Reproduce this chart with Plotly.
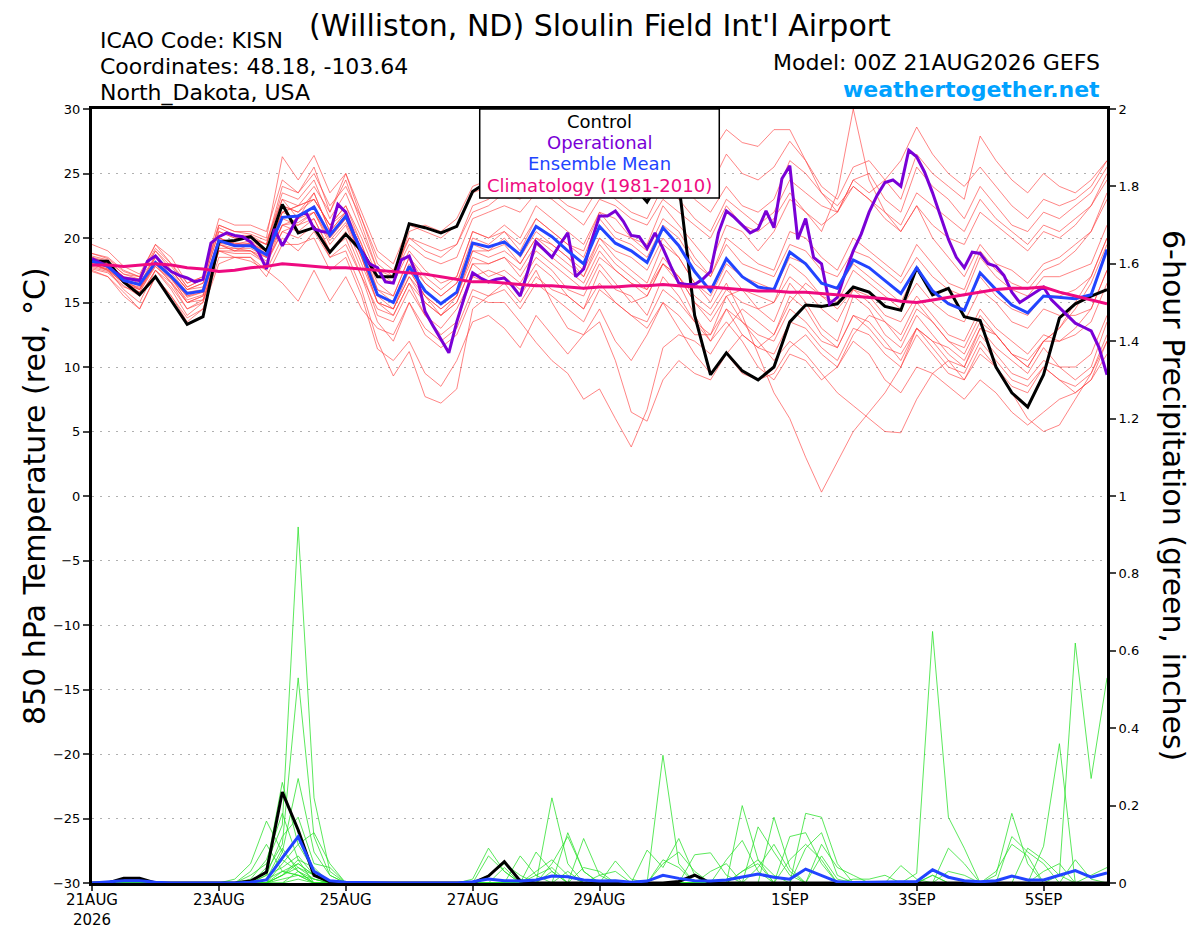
import pandas as pd
import plotly.graph_objects as go

# 6-hourly GEFS steps, 21AUG 00Z -> 6SEP 00Z
times = pd.date_range("2026-08-21 00:00", periods=65, freq="6h")
times_oper = pd.date_range("2026-08-21 00:00", periods=129, freq="3h")

tick_dates = ["2026-08-21", "2026-08-23", "2026-08-25", "2026-08-27",
              "2026-08-29", "2026-09-01", "2026-09-03", "2026-09-05"]
tick_text = ["21AUG<br>2026", "23AUG", "25AUG", "27AUG", "29AUG", "1SEP", "3SEP", "5SEP"]

control_t = [18.2, 18.2, 16.6, 15.6, 17.0, 15.1, 13.3, 13.9, 19.7, 19.8, 20.1, 19.0, 22.6, 20.4, 20.8, 18.9,
             20.3, 19.0, 17.0, 17.0, 21.1, 20.8, 20.4, 20.9, 23.6, 24.4, 25.0, 25.4, 24.8, 25.6, 26.0, 25.2,
             24.6, 25.4, 24.2, 22.8, 24.8, 24.2, 14.0, 9.4, 11.1, 9.7, 9.0, 10.0, 13.5, 14.8, 14.7, 14.9,
             16.2, 15.8, 14.7, 14.4, 17.7, 15.6, 16.1, 13.9, 13.6, 10.0, 8.0, 6.9, 9.4, 13.8, 14.9, 15.5, 16.0]

mean_t = [18.2, 17.8, 16.7, 16.4, 18.1, 17.0, 15.7, 15.9, 19.8, 19.4, 19.4, 18.7, 21.6, 21.7, 22.4, 20.2,
          21.7, 18.9, 15.6, 15.0, 17.8, 15.9, 14.9, 15.8, 19.6, 19.3, 19.7, 18.7, 20.9, 20.1, 19.0, 18.0,
          20.9, 19.6, 19.0, 18.1, 20.8, 19.4, 17.4, 15.9, 18.4, 17.0, 16.2, 16.0, 18.9, 18.0, 16.5, 16.1,
          18.3, 17.7, 16.7, 15.7, 17.7, 15.9, 14.9, 14.4, 17.3, 16.0, 14.8, 14.2, 15.5, 15.4, 15.3, 15.6, 19.1]

clim_t = [17.9, 17.9, 17.8, 17.9, 18.0, 17.9, 17.7, 17.6, 17.4, 17.5, 17.7, 17.8, 18.0, 17.9, 17.8, 17.7,
          17.7, 17.6, 17.5, 17.4, 17.3, 17.2, 17.0, 16.8, 16.6, 16.6, 16.5, 16.4, 16.3, 16.3, 16.2, 16.1,
          16.2, 16.2, 16.3, 16.3, 16.4, 16.3, 16.2, 16.2, 16.1, 16.0, 15.9, 15.9, 15.8, 15.8, 15.7, 15.6,
          15.5, 15.4, 15.3, 15.1, 15.0, 15.2, 15.4, 15.6, 15.8, 16.0, 16.1, 16.1, 16.2, 15.8, 15.5, 15.2, 14.9]

oper_t = [18.4, 18.1, 17.8, 17.3, 16.9, 16.8, 16.7, 18.2, 18.6, 17.9, 17.4, 17.1, 16.9, 16.6, 16.8, 19.6,
          20.1, 20.4, 20.2, 20.1, 19.7, 18.9, 17.6, 20.7, 19.4, 20.5, 21.7, 22.0, 20.7, 20.5, 20.4, 22.6,
          22.0, 20.3, 19.0, 18.0, 17.7, 16.6, 16.5, 18.3, 18.6, 17.0, 14.3, 13.2, 12.2, 11.1, 13.5, 15.5,
          17.3, 16.9, 16.6, 16.8, 16.9, 16.3, 15.5, 17.5, 19.7, 19.1, 18.5, 19.5, 20.4, 17.0, 17.6, 19.8,
          21.7, 21.7, 22.1, 21.3, 20.2, 20.1, 19.2, 20.4, 19.2, 17.8, 16.5, 16.4, 16.4, 16.8, 17.4, 20.4,
          22.1, 21.6, 21.0, 20.4, 20.7, 22.1, 20.8, 24.6, 25.6, 19.9, 21.5, 18.5, 18.0, 14.9, 15.4, 17.3,
          19.0, 20.3, 22.0, 23.3, 24.3, 24.5, 24.0, 26.8, 26.3, 25.1, 23.5, 21.7, 19.9, 18.5, 17.7, 18.9,
          18.8, 18.0, 17.8, 17.1, 15.8, 15.0, 15.4, 15.8, 16.2, 15.2, 14.6, 14.0, 13.4, 13.1, 12.8, 11.5, 9.4]

members_t = [
    [19.5, 19.0, 17.8, 17.2, 19.5, 18.5, 16.5, 17.0, 21.5, 21.0, 21.0, 20.5, 24.5, 23.5, 25.0, 22.5, 24.0, 21.5, 18.5, 17.5, 20.0, 19.5, 19.0, 19.5, 22.5, 23.0, 24.0, 24.5, 25.0, 24.0, 23.5, 24.5, 25.5, 24.0, 23.0, 24.5, 26.0, 25.5, 24.0, 26.5, 28.4, 27.4, 27.1, 28.4, 28.4, 26.0, 23.5, 22.0, 24.5, 25.0, 23.0, 22.0, 25.5, 24.0, 23.0, 21.5, 24.0, 22.5, 21.0, 20.5, 22.0, 21.5, 22.5, 23.5, 25.5],
    [18.0, 17.5, 16.5, 16.0, 18.0, 17.0, 15.5, 16.0, 20.0, 19.5, 19.5, 19.0, 22.0, 22.5, 23.0, 21.0, 22.5, 20.0, 17.0, 16.5, 19.0, 17.5, 16.5, 17.0, 20.5, 20.0, 21.0, 20.0, 22.5, 21.5, 20.5, 19.5, 22.0, 21.5, 20.0, 19.5, 22.5, 21.0, 19.5, 18.0, 21.0, 20.5, 19.0, 20.5, 23.0, 22.0, 20.5, 23.5, 30.0, 24.5, 22.0, 20.5, 22.5, 20.0, 18.5, 17.0, 19.5, 18.0, 17.5, 16.5, 18.0, 18.5, 19.5, 20.5, 23.0],
    [18.5, 18.0, 17.0, 16.5, 18.5, 17.5, 16.0, 16.5, 20.5, 20.0, 20.0, 19.5, 23.0, 21.5, 23.5, 20.5, 22.0, 19.0, 15.5, 14.5, 17.0, 15.5, 14.0, 15.0, 18.0, 17.0, 17.5, 16.5, 18.5, 17.5, 16.0, 15.5, 18.0, 16.5, 15.0, 15.5, 18.0, 17.0, 15.5, 14.5, 16.5, 14.0, 11.0, 8.0, 6.0, 3.0, 0.3, 2.7, 5.0, 6.5, 8.0, 10.0, 13.0, 12.0, 11.5, 10.5, 13.0, 12.5, 11.0, 10.0, 12.0, 13.0, 15.0, 17.0, 20.0],
    [17.8, 17.5, 16.0, 15.0, 17.5, 16.0, 14.0, 15.0, 19.0, 19.0, 19.0, 18.0, 20.5, 21.0, 21.5, 19.0, 20.0, 17.0, 13.5, 12.0, 15.0, 12.5, 11.5, 12.5, 15.5, 15.0, 15.0, 13.5, 11.9, 10.5, 9.5, 7.5, 8.3, 6.0, 3.8, 6.7, 11.5, 12.5, 12.0, 11.0, 13.0, 14.5, 13.5, 12.5, 15.0, 16.5, 15.5, 14.5, 16.0, 15.5, 14.0, 13.5, 15.5, 14.0, 12.5, 12.0, 14.5, 13.0, 12.0, 11.0, 12.5, 12.0, 13.0, 14.5, 17.5],
    [18.0, 17.5, 16.5, 15.5, 17.5, 16.5, 14.5, 15.0, 19.0, 18.5, 18.5, 17.5, 20.0, 19.0, 20.5, 18.5, 19.0, 16.0, 12.0, 9.3, 11.2, 7.7, 7.2, 8.3, 14.5, 15.5, 16.5, 15.0, 17.0, 16.0, 15.5, 14.5, 17.5, 16.0, 15.5, 14.0, 17.0, 15.5, 13.5, 12.0, 14.5, 12.5, 11.5, 12.5, 15.5, 14.5, 12.5, 11.5, 14.0, 13.5, 12.0, 10.5, 13.0, 11.5, 10.0, 9.5, 12.0, 10.5, 9.0, 8.5, 10.0, 9.0, 8.5, 9.5, 12.0],
    [17.5, 17.0, 15.5, 14.5, 17.0, 15.5, 13.5, 14.5, 18.0, 18.5, 18.5, 17.0, 19.5, 19.5, 20.0, 17.5, 18.5, 15.5, 11.4, 10.5, 12.0, 9.5, 8.5, 10.5, 13.5, 14.0, 13.0, 11.5, 14.0, 12.5, 11.0, 12.5, 14.5, 12.0, 10.5, 12.5, 15.0, 14.0, 12.5, 12.5, 15.5, 16.0, 14.5, 13.5, 16.5, 15.0, 13.0, 12.0, 15.5, 14.5, 12.5, 11.5, 14.0, 12.5, 11.0, 10.0, 13.0, 11.5, 10.5, 9.5, 11.5, 10.0, 9.0, 10.0, 13.5],
    [18.8, 18.5, 17.5, 17.0, 19.5, 18.0, 16.5, 17.0, 21.0, 20.5, 20.5, 20.0, 26.3, 24.5, 26.4, 23.5, 25.0, 22.0, 19.0, 18.0, 21.0, 20.5, 20.0, 21.0, 23.5, 24.0, 24.5, 25.0, 26.0, 25.0, 24.0, 24.5, 26.0, 25.0, 24.0, 25.0, 27.0, 26.5, 25.0, 24.0, 26.5, 25.0, 24.5, 25.5, 27.5, 26.0, 24.0, 23.0, 25.5, 26.0, 24.5, 23.0, 26.5, 25.0, 24.0, 23.0, 27.9, 26.0, 24.5, 23.5, 25.0, 24.0, 23.5, 24.5, 26.0],
    [18.0, 17.8, 16.8, 16.0, 18.5, 17.0, 15.0, 15.5, 19.5, 19.0, 19.0, 18.5, 21.0, 21.5, 22.0, 20.0, 21.5, 18.5, 15.0, 14.0, 16.5, 14.0, 13.0, 14.5, 17.0, 16.5, 17.0, 15.5, 17.5, 15.0, 13.0, 12.5, 13.5, 10.5, 6.5, 5.8, 9.0, 10.5, 9.5, 9.0, 11.0, 12.5, 11.5, 11.0, 13.5, 13.0, 11.5, 10.5, 13.0, 12.5, 11.0, 10.0, 12.5, 11.0, 9.5, 9.0, 11.5, 10.0, 8.5, 8.0, 10.0, 9.0, 8.0, 9.0, 12.0],
    [18.3, 17.8, 16.5, 16.0, 18.0, 16.5, 15.0, 15.5, 19.5, 19.0, 19.5, 18.5, 21.5, 21.0, 22.0, 19.5, 21.0, 18.0, 15.0, 14.5, 17.0, 15.0, 14.0, 15.5, 18.5, 18.0, 18.5, 17.5, 19.5, 18.5, 17.5, 16.5, 19.0, 17.5, 16.5, 16.0, 18.5, 17.0, 15.0, 13.5, 15.5, 13.5, 12.0, 10.5, 12.0, 11.0, 9.5, 8.0, 7.0, 6.0, 5.0, 4.9, 7.5, 9.5, 10.5, 9.0, 11.0, 10.0, 8.0, 6.0, 5.0, 5.5, 7.5, 9.5, 12.5],
    [18.5, 18.2, 17.2, 17.0, 19.0, 17.5, 16.0, 16.5, 20.5, 20.0, 20.0, 19.5, 23.5, 23.0, 24.5, 21.5, 23.5, 20.5, 17.5, 17.0, 19.5, 18.5, 18.0, 18.5, 21.5, 22.0, 22.5, 22.0, 23.5, 23.0, 22.0, 21.0, 23.0, 22.5, 21.5, 21.0, 23.0, 22.0, 21.0, 20.0, 22.5, 21.0, 20.5, 21.5, 23.5, 22.0, 21.0, 22.0, 24.5, 23.5, 24.5, 26.0, 28.6, 26.5, 25.0, 24.0, 25.5, 24.0, 22.5, 21.5, 23.0, 22.5, 23.0, 24.0, 26.0],
    [17.6, 17.3, 16.2, 15.8, 17.8, 16.6, 15.0, 15.2, 19.0, 18.8, 18.8, 18.0, 21.0, 20.5, 21.5, 19.0, 20.5, 17.5, 14.0, 13.5, 16.0, 14.0, 12.5, 13.5, 17.0, 17.5, 17.0, 16.0, 18.0, 17.0, 15.5, 14.5, 16.5, 15.0, 14.0, 13.0, 15.0, 13.0, 11.0, 9.5, 11.0, 9.5, 9.0, 9.5, 11.5, 12.5, 11.0, 10.0, 12.0, 11.0, 9.0, 8.0, 10.0, 9.5, 8.5, 7.5, 9.0, 8.0, 6.5, 5.5, 6.5, 7.5, 8.0, 9.0, 11.0],
    [18.2, 18.0, 17.0, 16.8, 18.5, 17.5, 16.0, 16.2, 20.0, 19.5, 19.8, 19.0, 22.5, 22.0, 23.0, 21.0, 22.0, 19.5, 16.5, 15.5, 18.5, 17.0, 16.0, 17.0, 20.5, 20.0, 20.5, 19.5, 21.5, 20.5, 19.5, 18.5, 21.5, 20.0, 19.5, 18.5, 21.0, 20.0, 18.0, 17.0, 19.5, 18.0, 17.5, 17.0, 19.5, 19.0, 17.5, 17.0, 19.0, 18.5, 17.5, 16.5, 18.5, 17.0, 16.0, 15.5, 18.5, 17.0, 16.0, 15.5, 17.0, 17.0, 17.5, 18.0, 21.0],
    [17.9, 17.6, 16.5, 16.2, 17.8, 16.8, 15.5, 15.8, 19.5, 19.2, 19.2, 18.5, 21.0, 21.2, 22.0, 19.8, 21.2, 18.5, 15.0, 14.5, 17.5, 15.5, 14.5, 15.5, 19.0, 18.5, 19.0, 18.0, 20.0, 19.5, 18.5, 17.5, 20.0, 19.0, 18.5, 17.5, 20.0, 18.5, 16.5, 15.0, 17.5, 16.0, 15.5, 15.0, 18.0, 17.0, 15.5, 15.0, 17.5, 16.5, 15.5, 14.5, 16.5, 15.0, 14.0, 13.5, 16.0, 15.0, 13.5, 13.0, 14.5, 14.0, 14.0, 14.5, 17.5],
    [18.6, 18.3, 17.2, 16.8, 19.0, 17.8, 16.2, 16.8, 20.8, 20.2, 20.2, 19.5, 24.0, 23.5, 25.5, 22.0, 24.5, 21.0, 17.5, 16.5, 20.5, 21.0, 20.5, 21.5, 24.0, 24.5, 25.0, 26.0, 25.5, 26.5, 25.0, 24.0, 26.0, 25.5, 24.5, 24.0, 25.5, 24.5, 23.0, 22.0, 24.0, 22.5, 22.0, 23.0, 26.0, 25.0, 23.5, 22.5, 24.0, 23.0, 21.5, 20.5, 22.5, 21.0, 20.0, 19.5, 22.0, 21.0, 20.0, 19.0, 20.5, 20.0, 21.0, 22.5, 24.5],
    [18.0, 17.6, 16.6, 15.8, 18.0, 16.8, 15.2, 15.6, 19.8, 19.6, 19.6, 19.0, 22.0, 22.5, 23.0, 21.0, 22.5, 19.5, 16.0, 15.0, 18.0, 16.5, 15.5, 16.5, 19.5, 19.0, 20.0, 18.5, 20.5, 19.5, 18.5, 17.0, 19.5, 18.0, 17.0, 16.0, 18.0, 16.5, 14.0, 12.0, 13.5, 12.0, 10.0, 9.0, 11.0, 10.5, 9.0, 10.0, 12.5, 14.0, 13.5, 12.0, 14.5, 13.5, 12.0, 11.0, 13.5, 12.5, 11.0, 10.0, 12.0, 13.0, 14.5, 16.5, 19.5],
    [18.4, 18.0, 16.9, 16.3, 18.7, 17.3, 15.8, 16.0, 20.0, 19.6, 19.4, 18.8, 22.5, 22.0, 23.5, 20.5, 22.0, 19.0, 16.0, 15.5, 18.5, 16.5, 15.5, 16.5, 20.0, 19.5, 20.5, 19.0, 21.5, 20.5, 19.5, 19.0, 22.0, 20.5, 20.0, 19.0, 21.5, 20.5, 18.5, 17.0, 20.0, 19.0, 18.0, 17.5, 20.5, 20.0, 18.5, 17.5, 20.0, 19.0, 18.0, 17.0, 19.5, 18.0, 16.5, 16.0, 19.0, 17.5, 16.5, 16.0, 17.5, 18.0, 19.0, 20.5, 23.5],
    [17.7, 17.4, 16.3, 15.5, 17.5, 16.2, 14.5, 15.2, 19.2, 19.2, 19.0, 18.2, 20.5, 20.0, 21.0, 18.5, 19.5, 17.0, 14.5, 14.0, 16.5, 15.0, 14.0, 15.0, 18.0, 18.0, 18.5, 17.0, 19.0, 18.0, 17.0, 16.0, 18.5, 17.5, 16.5, 15.5, 18.0, 17.0, 15.0, 14.0, 16.0, 15.0, 14.5, 15.0, 17.0, 16.0, 14.5, 13.5, 16.0, 15.0, 13.5, 12.5, 15.0, 13.5, 12.0, 11.5, 14.0, 12.5, 11.0, 10.5, 12.0, 12.0, 12.5, 13.5, 16.5],
    [18.8, 18.4, 17.4, 17.0, 19.2, 18.0, 16.2, 16.8, 21.0, 20.5, 20.3, 19.8, 23.0, 22.5, 24.0, 22.0, 25.0, 21.5, 18.0, 17.0, 20.0, 19.0, 18.5, 19.5, 22.0, 22.5, 23.5, 23.0, 24.5, 23.5, 22.5, 22.0, 24.0, 23.0, 22.0, 21.5, 24.0, 23.0, 21.5, 20.5, 23.0, 22.0, 21.0, 22.0, 24.5, 23.5, 22.5, 22.0, 24.0, 23.0, 22.0, 21.0, 23.5, 22.5, 21.5, 20.5, 23.0, 21.5, 20.5, 19.5, 21.0, 20.5, 21.5, 22.5, 25.0],
    [17.4, 17.0, 15.8, 14.5, 17.0, 15.5, 13.8, 14.5, 18.5, 18.5, 18.2, 17.5, 16.5, 15.1, 17.5, 15.1, 17.0, 14.5, 13.0, 12.5, 15.0, 13.0, 12.0, 13.0, 16.0, 15.5, 16.0, 14.5, 16.5, 15.5, 14.5, 13.5, 16.0, 15.0, 14.0, 13.5, 16.0, 15.0, 13.5, 12.5, 14.5, 13.5, 12.5, 12.0, 14.5, 13.5, 12.0, 11.5, 14.0, 13.0, 11.5, 11.0, 13.0, 12.0, 10.5, 10.0, 12.5, 11.0, 9.5, 9.0, 10.5, 10.0, 10.0, 11.0, 14.0],
    [18.1, 17.7, 16.6, 16.1, 18.2, 17.0, 15.4, 15.8, 19.6, 19.4, 19.6, 18.8, 22.0, 21.5, 22.5, 20.0, 21.5, 18.5, 15.5, 15.0, 17.5, 15.5, 14.5, 15.5, 19.0, 19.0, 19.5, 18.0, 20.0, 19.0, 18.0, 17.0, 20.0, 18.5, 17.5, 16.5, 19.5, 18.5, 16.5, 15.5, 18.0, 17.0, 16.5, 16.0, 18.5, 18.0, 16.5, 16.0, 18.0, 17.0, 16.0, 15.0, 17.5, 16.0, 15.0, 14.5, 17.0, 15.5, 14.5, 14.0, 15.5, 15.5, 16.0, 17.0, 20.0],
]

# 6-hour precip (inches); step index -> amount, all other steps dry
members_p = [
    {10: 0.02, 11: 0.05, 12: 0.15, 13: 0.92, 14: 0.22, 15: 0.03, 29: 0.03, 36: 0.33, 37: 0.05, 53: 0.02},
    {11: 0.03, 12: 0.10, 13: 0.53, 14: 0.12, 15: 0.02, 25: 0.02, 26: 0.05, 27: 0.02, 41: 0.03, 42: 0.06},
    {9: 0.01, 10: 0.05, 11: 0.16, 12: 0.08, 13: 0.04, 14: 0.02, 29: 0.22, 30: 0.05, 52: 0.025, 53: 0.65, 54: 0.17, 55: 0.09},
    {11: 0.04, 12: 0.26, 13: 0.10, 14: 0.03, 30: 0.13, 31: 0.03, 45: 0.18, 46: 0.17, 47: 0.05},
    {12: 0.08, 13: 0.27, 14: 0.08, 15: 0.02, 24: 0.01, 25: 0.09, 26: 0.03, 61: 0.02, 62: 0.62, 63: 0.27, 64: 0.53},
    {11: 0.02, 12: 0.12, 13: 0.17, 14: 0.05, 15: 0.04, 31: 0.115, 32: 0.02, 41: 0.20, 42: 0.06, 43: 0.02},
    {10: 0.01, 11: 0.06, 12: 0.18, 13: 0.06, 28: 0.08, 29: 0.03, 43: 0.17, 44: 0.04, 57: 0.02, 58: 0.18, 59: 0.05},
    {12: 0.05, 13: 0.10, 14: 0.13, 15: 0.05, 33: 0.057, 34: 0.01, 44: 0.12, 45: 0.13, 46: 0.05, 60: 0.095, 61: 0.36},
    {11: 0.02, 12: 0.04, 13: 0.07, 14: 0.02, 35: 0.085, 36: 0.04, 37: 0.115, 38: 0.02, 58: 0.12, 59: 0.08, 60: 0.05},
    {10: 0.03, 11: 0.10, 12: 0.03, 13: 0.02, 27: 0.07, 28: 0.02, 38: 0.073, 39: 0.078, 40: 0.02, 54: 0.09, 55: 0.05},
    {12: 0.02, 13: 0.04, 14: 0.01, 25: 0.07, 26: 0.03, 42: 0.145, 43: 0.08, 44: 0.02, 59: 0.09, 60: 0.06, 61: 0.02},
    {11: 0.01, 12: 0.06, 13: 0.03, 29: 0.05, 30: 0.12, 31: 0.03, 45: 0.09, 46: 0.13, 47: 0.02, 62: 0.06, 63: 0.01},
    {12: 0.03, 13: 0.02, 14: 0.01, 28: 0.03, 29: 0.06, 30: 0.02, 40: 0.06, 41: 0.11, 42: 0.03, 51: 0.045, 52: 0.01},
    {11: 0.01, 12: 0.09, 13: 0.03, 31: 0.04, 32: 0.03, 44: 0.06, 45: 0.10, 46: 0.06, 53: 0.02},
    {12: 0.02, 13: 0.05, 14: 0.02, 26: 0.04, 36: 0.05, 37: 0.08, 38: 0.03, 48: 0.01, 49: 0.01, 50: 0.02},
    {13: 0.03, 14: 0.01, 28: 0.02, 29: 0.04, 39: 0.03, 40: 0.05, 57: 0.03, 58: 0.10, 59: 0.07},
    {12: 0.01, 13: 0.02, 30: 0.03, 42: 0.04, 43: 0.10, 44: 0.03, 63: 0.02, 64: 0.04},
    {11: 0.01, 12: 0.03, 13: 0.05, 14: 0.02, 32: 0.02, 33: 0.03, 46: 0.07, 47: 0.01},
    {12: 0.02, 13: 0.06, 14: 0.04, 27: 0.01, 41: 0.03, 42: 0.05, 54: 0.03, 55: 0.02},
    {13: 0.01, 36: 0.06, 37: 0.04, 46: 0.10, 47: 0.04, 48: 0.02, 60: 0.03, 61: 0.05},
]
control_p = {2: 0.012, 3: 0.012, 10: 0.005, 11: 0.028, 12: 0.235, 13: 0.137, 14: 0.02, 15: 0.003,
             25: 0.018, 26: 0.055, 27: 0.005, 37: 0.004, 38: 0.02}
mean_p = [0, 0.003, 0.006, 0.006, 0.002, 0, 0, 0, 0, 0, 0.002, 0.008, 0.065, 0.12, 0.03, 0.006,
          0.002, 0.001, 0, 0, 0, 0, 0, 0, 0.003, 0.01, 0.006, 0.005, 0.008, 0.018, 0.016, 0.008,
          0.005, 0.006, 0.002, 0.005, 0.02, 0.012, 0.006, 0.005, 0.008, 0.015, 0.023, 0.015, 0.01, 0.036,
          0.02, 0.003, 0.001, 0.002, 0.002, 0.003, 0.004, 0.034, 0.015, 0.006, 0.003, 0.006, 0.018, 0.008,
          0.008, 0.02, 0.032, 0.015, 0.026]


def expand(sparse):
    return [sparse.get(i, 0.0) for i in range(len(times))]


FONT = "DejaVu Sans"
fig = go.Figure()

for m in members_t:
    fig.add_trace(go.Scatter(x=times, y=m, mode="lines", line=dict(color="rgba(255,60,60,0.7)", width=0.9),
                             hoverinfo="skip", showlegend=False))
for m in members_p:
    fig.add_trace(go.Scatter(x=times, y=expand(m), yaxis="y2", mode="lines",
                             line=dict(color="rgba(40,225,40,0.85)", width=0.9),
                             hoverinfo="skip", showlegend=False))

fig.add_trace(go.Scatter(x=times, y=expand(control_p), yaxis="y2", mode="lines",
                         line=dict(color="black", width=3), showlegend=False))
fig.add_trace(go.Scatter(x=times, y=mean_p, yaxis="y2", mode="lines",
                         line=dict(color="#2244ff", width=3), showlegend=False))

fig.add_trace(go.Scatter(x=times, y=control_t, mode="lines", line=dict(color="black", width=3), showlegend=False))
fig.add_trace(go.Scatter(x=times_oper, y=oper_t, mode="lines", line=dict(color="#7a00d6", width=3), showlegend=False))
fig.add_trace(go.Scatter(x=times, y=mean_t, mode="lines", line=dict(color="#2244ff", width=3), showlegend=False))
fig.add_trace(go.Scatter(x=times, y=clim_t, mode="lines", line=dict(color="#ee0a80", width=3), showlegend=False))

# legend box drawn over the lines
fig.add_shape(type="rect", xref="paper", yref="paper", x0=0.382, x1=0.618, y0=0.885, y1=1.0,
              fillcolor="white", line=dict(color="black", width=1.5), layer="above")
legend_items = [("Control", "black"), ("Operational", "#7a00d6"),
                ("Ensemble Mean", "#2244ff"), ("Climatology (1981-2010)", "#ee0a80")]
for i, (txt, col) in enumerate(legend_items):
    fig.add_annotation(xref="paper", yref="paper", x=0.5, y=0.984 - i * 0.0275, text=txt,
                       showarrow=False, font=dict(family=FONT, size=18, color=col),
                       xanchor="center", yanchor="middle")

# screen positions (px) of the header texts
header = [
    dict(x=600, y=26, text="(Williston, ND) Sloulin Field Int'l Airport", size=30, anchor="center", color="black"),
    dict(x=98, y=40, text="ICAO Code: KISN", size=22, anchor="left", color="black"),
    dict(x=98, y=67, text="Coordinates: 48.18, -103.64", size=22, anchor="left", color="black"),
    dict(x=98, y=93, text="North_Dakota, USA", size=22, anchor="left", color="black"),
    dict(x=1102, y=63, text="Model: 00Z 21AUG2026 GEFS", size=22, anchor="right", color="black"),
    dict(x=1102, y=89, text="<b>weathertogether.net</b>", size=22, anchor="right", color="#00a2ff"),
]
for h in header:
    fig.add_annotation(xref="paper", yref="paper", x=(h["x"] - 92) / 1015, y=(883 - h["y"]) / 774,
                       text=h["text"], showarrow=False, xanchor=h["anchor"], yanchor="middle",
                       font=dict(family=FONT, size=h["size"], color=h["color"]))

fig.add_annotation(xref="paper", yref="paper", x=(34 - 92) / 1015, y=(883 - 496) / 774,
                   text="850 hPa Temperature (red, °C)", textangle=-90, showarrow=False,
                   xanchor="center", yanchor="middle", font=dict(family=FONT, size=30, color="black"))
fig.add_annotation(xref="paper", yref="paper", x=(1173 - 92) / 1015, y=(883 - 495) / 774,
                   text="6-hour Precipitation (green, inches)", textangle=90, showarrow=False,
                   xanchor="center", yanchor="middle", font=dict(family=FONT, size=30, color="black"))

# page body adds an 8px offset, so the figure is laid out 8px up/left
fig.update_layout(
    width=1192, height=919,
    margin=dict(l=84, r=93, t=101, b=44, autoexpand=False),
    plot_bgcolor="white", paper_bgcolor="white",
    font=dict(family=FONT, size=14, color="black"),
    xaxis=dict(type="date", range=[times[0], times[-1]], tickvals=pd.to_datetime(tick_dates), ticktext=tick_text,
               ticks="outside", ticklen=5, tickwidth=1.5, showline=True, linewidth=3, linecolor="black",
               mirror=True, showgrid=False, zeroline=False, automargin=False, ticklabelstandoff=-4,
               tickfont=dict(size=15)),
    yaxis=dict(range=[-30, 30], tick0=0, dtick=5, ticks="outside", ticklen=6, tickwidth=1.5,
               showline=True, linewidth=3, linecolor="black", mirror=True, zeroline=False, automargin=False,
               showgrid=True, gridcolor="#b0b0b0", griddash="2px,6px", gridwidth=1, tickfont=dict(size=13)),
    yaxis2=dict(range=[0, 2], dtick=0.2, tick0=0, overlaying="y", side="right", ticks="outside", ticklen=6,
                tickwidth=1.5, showline=True, linewidth=3, linecolor="black", showgrid=False,
                zeroline=False, automargin=False, tickfont=dict(size=13)),
)

fig.write_html("out.html")
